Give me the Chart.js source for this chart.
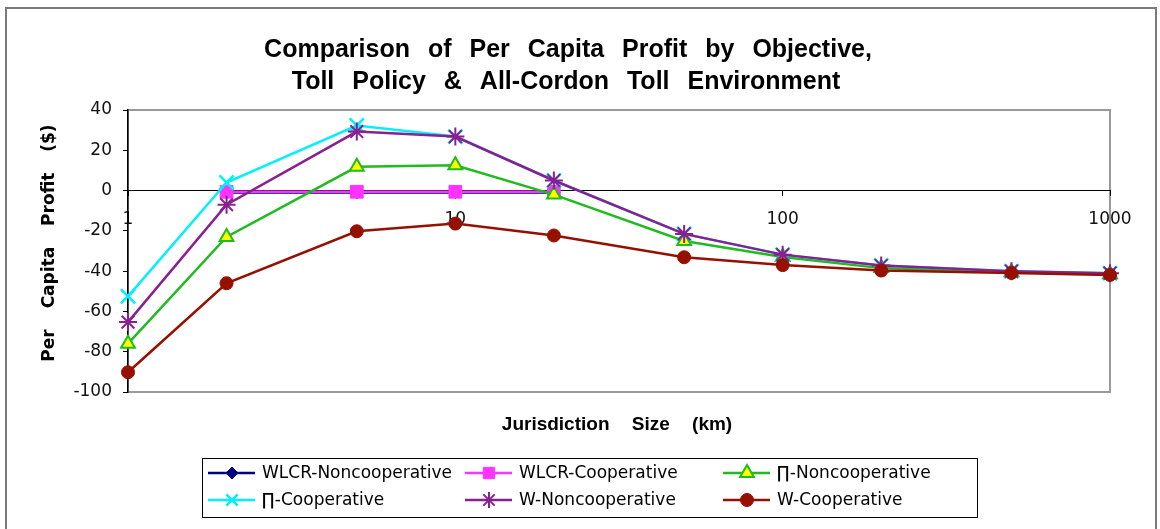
<!DOCTYPE html>
<html>
<head>
<meta charset="utf-8">
<title>Per Capita Profit by Objective</title>
<script src="https://cdn.jsdelivr.net/npm/chart.js"></script>
<style>
  body { margin: 0; background: #fff; }
  #wrap { position: relative; width: 1160px; height: 529px; overflow: hidden; }
  #frame { position: absolute; left: 5px; top: 7px; width: 1148px; height: 560px; border: 2px solid #7a7a7a; pointer-events: none; }
  canvas { position: absolute; left: 0; top: 0; }
</style>
</head>
<body>
<div id="wrap">
  <canvas id="chart" width="1160" height="529"></canvas>
  <div id="frame"></div>
</div>
<script>
// jurisdiction sizes (km), log axis
const sizes = [1, 2, 5, 10, 20, 50, 100, 200, 500, 1000];
const xTicks = [1, 10, 100, 1000];

// per capita profit ($)
const wlcrNoncoop = [null, -1, -1, -1, -1, null, null, null, null, null];
const wlcrCoop    = [null, -0.6, -0.6, -0.6, -0.6, null, null, null, null, null];
const piNoncoop   = [-76, -23, 11.8, 12.6, -2, -25, -33, -38.5, -40.5, -41.5];
const piCoop      = [-52.5, 4, 32.3, 26.8, 5, -21.5, -31.8, -37.2, -40, -41];
const wNoncoop    = [-65.3, -7, 29.3, 26.8, 5, -21.5, -31.8, -37.2, -40, -41];
const wCoop       = [-90.2, -46, -20.2, -16.4, -22.3, -33.1, -37, -39.7, -40.9, -41.9];

const titleLines = ['Comparison of Per Capita Profit by Objective,', 'Toll Policy & All-Cordon Toll Environment'];
const xTitle = 'Jurisdiction Size (km)';
const yTitle = 'Per Capita Profit ($)';

function pts(arr) {
  return sizes.map((x, i) => ({ x: x, y: arr[i] }));
}

const series = [
  { label: 'WLCR-Noncooperative', data: pts(wlcrNoncoop), borderColor: '#000080', backgroundColor: '#000080',
    pointStyle: 'rectRot', pointRadius: 6, pointBorderWidth: 1, order: 5 },
  { label: 'WLCR-Cooperative', data: pts(wlcrCoop), borderColor: '#ff33ff', backgroundColor: '#ff33ff',
    pointStyle: 'rect', pointRadius: 9, pointBorderWidth: 1, order: 4 },
  { label: '\u220F-Noncooperative', data: pts(piNoncoop), borderColor: '#1fbb1f', backgroundColor: '#ffff00',
    pointStyle: 'triangle', pointRadius: 8, pointBorderWidth: 2, order: 3 },
  { label: '\u220F-Cooperative', data: pts(piCoop), borderColor: '#00f0ff', backgroundColor: '#00f0ff',
    pointStyle: 'crossRot', pointRadius: 10, pointBorderWidth: 2.5, order: 2 },
  { label: 'W-Noncooperative', data: pts(wNoncoop), borderColor: '#8a1f92', backgroundColor: '#8a1f92',
    pointStyle: 'star', pointRadius: 9, pointBorderWidth: 2, order: 1 },
  { label: 'W-Cooperative', data: pts(wCoop), borderColor: '#961000', backgroundColor: '#961000',
    pointStyle: 'circle', pointRadius: 6.5, pointBorderWidth: 1, order: 0 }
];
series.forEach(s => {
  s.borderWidth = 2.5;
  s.pointBorderColor = s.borderColor;
  s.pointBackgroundColor = s.backgroundColor;
  s.tension = 0;
  s.clip = false;
});

// legend layout: columns / rows
const legendBox = { left: 202, top: 458, right: 977, bottom: 517 };
const legendCols = [208, 465, 723];
const legendRows = [473, 500];

const framePlugin = {
  id: 'frame',
  beforeDraw(chart) {
    const { ctx, chartArea: a } = chart;
    ctx.save();
    ctx.fillStyle = '#fff';
    ctx.fillRect(0, 0, chart.width, chart.height);
    ctx.strokeStyle = '#9a9a9a';
    ctx.lineWidth = 2;
    ctx.strokeRect(a.left, a.top, a.right - a.left, a.bottom - a.top);
    ctx.restore();
  },
  afterDraw(chart) {
    const ctx = chart.ctx;
    ctx.save();
    ctx.fillStyle = '#000';
    ctx.textAlign = 'center';
    // title
    ctx.textBaseline = 'alphabetic';
    ctx.font = 'bold 25px "Liberation Sans", Arial, sans-serif';
    ctx.wordSpacing = '11px';
    ctx.fillText(titleLines[0], 568, 57);
    ctx.fillText(titleLines[1], 566, 89);
    // x title
    ctx.textBaseline = 'middle';
    ctx.font = 'bold 19px "Liberation Sans", Arial, sans-serif';
    ctx.wordSpacing = '17px';
    ctx.fillText(xTitle, 617, 425);
    // y title
    ctx.save();
    ctx.translate(50, 243);
    ctx.rotate(-Math.PI / 2);
    ctx.font = 'bold 17px "DejaVu Sans", sans-serif';
    ctx.wordSpacing = '15px';
    ctx.fillText(yTitle, 0, 0);
    ctx.restore();

    // legend
    ctx.wordSpacing = '0px';
    ctx.strokeStyle = '#000';
    ctx.lineWidth = 1;
    ctx.strokeRect(legendBox.left + 0.5, legendBox.top + 0.5, legendBox.right - legendBox.left, legendBox.bottom - legendBox.top);
    ctx.font = '17px "DejaVu Sans", sans-serif';
    ctx.textAlign = 'left';
    chart.data.datasets.forEach((ds, i) => {
      const x = legendCols[i % 3];
      const y = legendRows[Math.floor(i / 3)];
      ctx.strokeStyle = ds.borderColor;
      ctx.lineWidth = 2.5;
      ctx.beginPath();
      ctx.moveTo(x, y);
      ctx.lineTo(x + 47, y);
      ctx.stroke();
      ctx.fillStyle = ds.backgroundColor;
      ctx.strokeStyle = ds.borderColor;
      ctx.lineWidth = ds.pointBorderWidth;
      Chart.helpers.drawPoint(ctx, {
        pointStyle: ds.pointStyle,
        radius: Math.min(ds.pointRadius, 8),
        rotation: 0,
        borderWidth: ds.pointBorderWidth
      }, x + 24, y);
      ctx.fillStyle = '#000';
      ctx.fillText(ds.label, x + 54, y + 1);
    });
    ctx.restore();
  }
};

new Chart(document.getElementById('chart'), {
  type: 'line',
  data: { datasets: series },
  options: {
    responsive: false,
    animation: false,
    layout: { padding: { left: 0, right: 50, top: 110, bottom: 137 } },
    plugins: {
      legend: { display: false },
      title: { display: false },
      tooltip: { enabled: false }
    },
    scales: {
      x: {
        type: 'logarithmic',
        position: { y: 0 },
        min: 1,
        max: 1000,
        afterBuildTicks: s => { s.ticks = xTicks.map(v => ({ value: v })); },
        ticks: {
          callback: v => String(v),
          color: '#111',
          font: { family: 'DejaVu Sans', size: 17 },
          padding: 14,
          maxRotation: 0,
          autoSkip: false
        },
        grid: { drawOnChartArea: false, color: '#000', tickLength: 5 },
        border: { color: '#000', width: 1 }
      },
      y: {
        min: -100,
        max: 40,
        afterFit: s => { s.width = 128; },
        ticks: {
          stepSize: 20,
          color: '#111',
          font: { family: 'DejaVu Sans', size: 17 },
          padding: 11
        },
        grid: { drawOnChartArea: false, color: '#000', tickLength: 5 },
        border: { color: '#000', width: 1.5 }
      }
    }
  },
  plugins: [framePlugin]
});
</script>
</body>
</html>
